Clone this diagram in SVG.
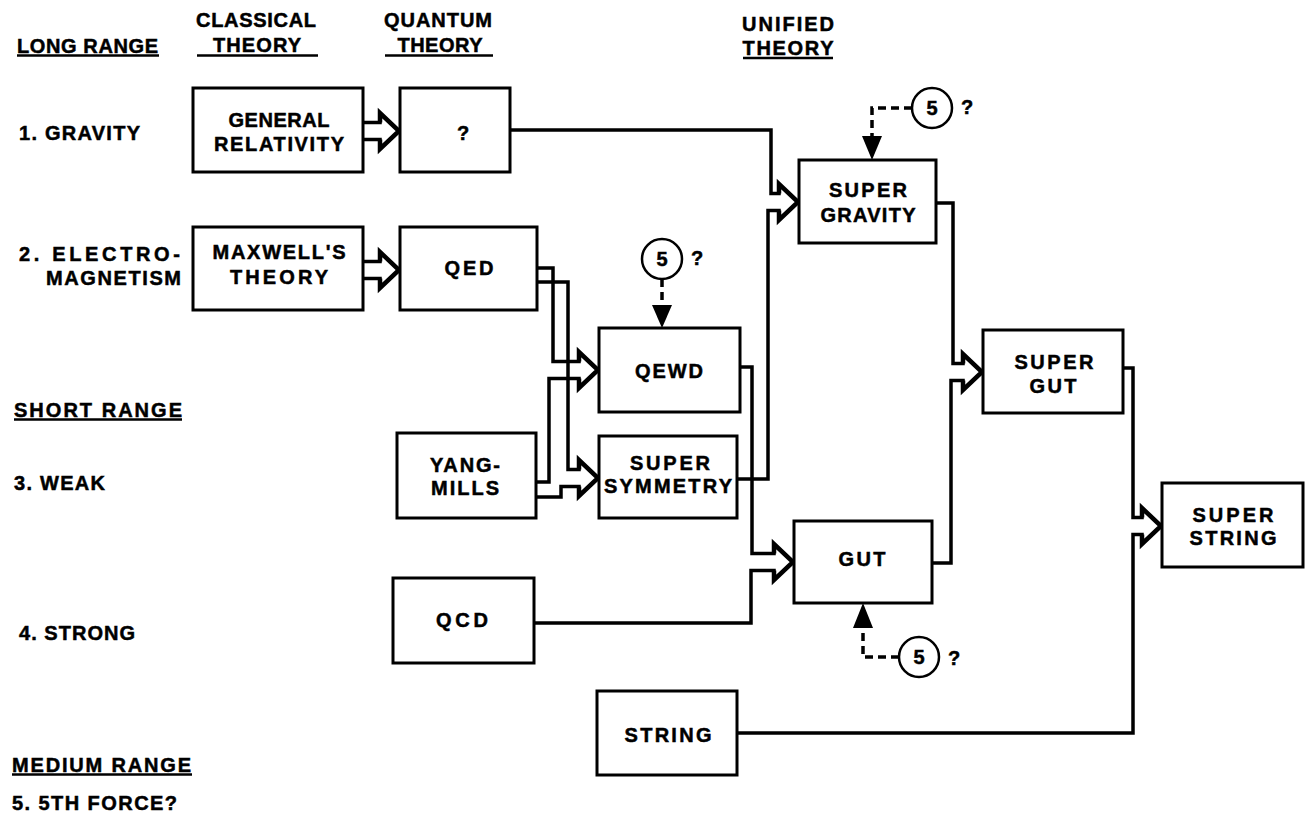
<svg xmlns="http://www.w3.org/2000/svg" width="1309" height="815" viewBox="0 0 1309 815">
<style>
text{font-family:"Liberation Sans",Arial,sans-serif;font-weight:bold;fill:#000;stroke:#000;stroke-width:0.5;font-size:20px}
.c{text-anchor:middle}
.box{fill:#fff;stroke:#000;stroke-width:3}
.ln{fill:none;stroke:#000;stroke-width:3.5;stroke-linejoin:miter;stroke-linecap:square}
.hd{fill:none;stroke:#000;stroke-width:4.5;stroke-linejoin:miter}
.ds{fill:none;stroke:#000;stroke-width:3.5;stroke-dasharray:8 5}
.tri{fill:#000}
.ul{stroke:#000;stroke-width:2.5}
.circ{fill:#fff;stroke:#000;stroke-width:2.5}
.q{font-size:20px}
</style>
<rect width="1309" height="815" fill="#fff"/>

<g id="headers">
<text x="17" y="53" textLength="141" lengthAdjust="spacing">LONG RANGE</text>
<line class="ul" x1="17" y1="55.5" x2="159" y2="55.5"/>
<text class="c" x="256" y="27" textLength="120" lengthAdjust="spacing">CLASSICAL</text>
<text class="c" x="257" y="52" textLength="88" lengthAdjust="spacing">THEORY</text>
<line class="ul" x1="197" y1="55.5" x2="318" y2="55.5"/>
<text class="c" x="438" y="27" textLength="108" lengthAdjust="spacing">QUANTUM</text>
<text class="c" x="440" y="52" textLength="85" lengthAdjust="spacing">THEORY</text>
<line class="ul" x1="385" y1="55.5" x2="493" y2="55.5"/>
<text class="c" x="788" y="31" textLength="92" lengthAdjust="spacing">UNIFIED</text>
<text class="c" x="788" y="55" textLength="91" lengthAdjust="spacing">THEORY</text>
<line class="ul" x1="743" y1="58" x2="833" y2="58"/>
<text x="19" y="140" textLength="121" lengthAdjust="spacing">1. GRAVITY</text>
<text x="19" y="261" textLength="161" lengthAdjust="spacing">2. ELECTRO-</text>
<text x="46" y="285" textLength="135" lengthAdjust="spacing">MAGNETISM</text>
<text x="14" y="417" textLength="168" lengthAdjust="spacing">SHORT RANGE</text>
<line class="ul" x1="14" y1="419.5" x2="182" y2="419.5"/>
<text x="14" y="490" textLength="91" lengthAdjust="spacing">3. WEAK</text>
<text x="19" y="640" textLength="116" lengthAdjust="spacing">4. STRONG</text>
<text x="12" y="772" textLength="179" lengthAdjust="spacing">MEDIUM RANGE</text>
<line class="ul" x1="12" y1="774.5" x2="192" y2="774.5"/>
<text x="12" y="810" textLength="165" lengthAdjust="spacing">5. 5TH FORCE?</text>
</g>

<g id="connectors">
<path class="ln" d="M363,122.5 H380 M363,139.5 H380"/>
<path class="hd" d="M380,122.5 V113 L399,131 L380,149 V139.5"/>
<path class="ln" d="M363,261.5 H380 M363,278.5 H380"/>
<path class="hd" d="M380,261.5 V252 L399,270 L380,288 V278.5"/>

<path class="ln" d="M510,130 H771 V193.5 H779"/>
<path class="ln" d="M737,479 H768 V210.5 H779"/>
<path class="hd" d="M779,193.5 V184 L798,202 L779,220 V210.5"/>

<path class="ln" d="M537,268 H553 V361.5 H579"/>
<path class="ln" d="M537,282 H568 V469.5 H579"/>
<path class="ln" d="M536,482 H549 V378.5 H579"/>
<path class="ln" d="M536,497 H561 V486.5 H579"/>
<path class="hd" d="M579,361.5 V352 L598,370 L579,388 V378.5"/>
<path class="hd" d="M579,469.5 V460 L598,478 L579,496 V486.5"/>

<path class="ln" d="M740,367 H752 V553.5 H774"/>
<path class="ln" d="M534,623 H751 V570.5 H774"/>
<path class="hd" d="M774,553.5 V544 L793,562 L774,580 V570.5"/>

<path class="ln" d="M936,203 H953 V363.5 H963"/>
<path class="ln" d="M932,563 H951 V380.5 H963"/>
<path class="hd" d="M963,363.5 V354 L982,372 L963,390 V380.5"/>

<path class="ln" d="M1123,368 H1133 V517.5 H1142"/>
<path class="ln" d="M737,733 H1133 V534.5 H1142"/>
<path class="hd" d="M1142,517.5 V508 L1161,526 L1142,544 V534.5"/>

<path class="ds" d="M912,108 H872 V137"/>
<polygon class="tri" points="862,136 882,136 872,160"/>
<path class="ds" d="M662,279 V306"/>
<polygon class="tri" points="652,305 672,305 662,328"/>
<path class="ds" d="M899,657 H863 V627"/>
<polygon class="tri" points="853,628 873,628 863,603"/>
</g>

<g id="n-gr"><rect class="box" x="193" y="88" width="170" height="84"/>
<text class="c" x="279" y="127" textLength="101" lengthAdjust="spacing">GENERAL</text>
<text class="c" x="279" y="151" textLength="130" lengthAdjust="spacing">RELATIVITY</text></g>
<g id="n-qg"><rect class="box" x="400" y="88" width="110" height="84"/>
<text class="c" x="463" y="140">?</text></g>
<g id="n-max"><rect class="box" x="193" y="227" width="170" height="83"/>
<text class="c" x="279" y="259" textLength="133" lengthAdjust="spacing">MAXWELL'S</text>
<text class="c" x="279" y="284" textLength="98" lengthAdjust="spacing">THEORY</text></g>
<g id="n-qed"><rect class="box" x="400" y="227" width="137" height="83"/>
<text class="c" x="469" y="275" textLength="49" lengthAdjust="spacing">QED</text></g>
<g id="n-ym"><rect class="box" x="397" y="433" width="139" height="85"/>
<text class="c" x="465" y="472" textLength="70" lengthAdjust="spacing">YANG-</text>
<text class="c" x="465" y="495" textLength="68" lengthAdjust="spacing">MILLS</text></g>
<g id="n-qcd"><rect class="box" x="393" y="578" width="141" height="85"/>
<text class="c" x="462" y="627" textLength="52" lengthAdjust="spacing">QCD</text></g>
<g id="n-qewd"><rect class="box" x="599" y="328" width="141" height="84"/>
<text class="c" x="669" y="378" textLength="68" lengthAdjust="spacing">QEWD</text></g>
<g id="n-sym"><rect class="box" x="599" y="436" width="138" height="82"/>
<text class="c" x="670" y="470" textLength="80" lengthAdjust="spacing">SUPER</text>
<text class="c" x="668" y="493" textLength="128" lengthAdjust="spacing">SYMMETRY</text></g>
<g id="n-str"><rect class="box" x="597" y="691" width="140" height="84"/>
<text class="c" x="668" y="742" textLength="87" lengthAdjust="spacing">STRING</text></g>
<g id="n-sg"><rect class="box" x="799" y="160" width="137" height="83"/>
<text class="c" x="868" y="197" textLength="78" lengthAdjust="spacing">SUPER</text>
<text class="c" x="868" y="222" textLength="95" lengthAdjust="spacing">GRAVITY</text></g>
<g id="n-gut"><rect class="box" x="794" y="521" width="138" height="82"/>
<text class="c" x="862" y="566" textLength="47" lengthAdjust="spacing">GUT</text></g>
<g id="n-sgut"><rect class="box" x="983" y="330" width="140" height="83"/>
<text class="c" x="1054" y="369" textLength="79" lengthAdjust="spacing">SUPER</text>
<text class="c" x="1053" y="393" textLength="47" lengthAdjust="spacing">GUT</text></g>
<g id="n-sstr"><rect class="box" x="1162" y="483" width="141" height="84"/>
<text class="c" x="1233" y="522" textLength="81" lengthAdjust="spacing">SUPER</text>
<text class="c" x="1233" y="545" textLength="87" lengthAdjust="spacing">STRING</text></g>

<g id="n-f1"><circle class="circ" cx="932" cy="108" r="20"/>
<text class="c" x="932" y="115">5</text>
<text class="q" x="961" y="114">?</text></g>
<g id="n-f2"><circle class="circ" cx="662" cy="259" r="20"/>
<text class="c" x="662" y="266">5</text>
<text class="q" x="691" y="265">?</text></g>
<g id="n-f3"><circle class="circ" cx="919" cy="657" r="20"/>
<text class="c" x="919" y="664">5</text>
<text class="q" x="948" y="665">?</text></g>
</svg>
